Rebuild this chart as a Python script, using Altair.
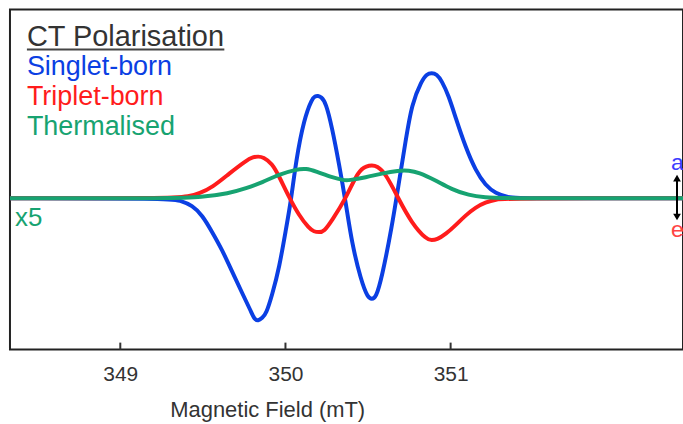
import altair as alt
import pandas as pd

# ---- data (field in mT, intensity in arbitrary units) ----
singlet_field = [348.30, 349.30, 349.36, 349.436, 349.497, 349.557, 349.618, 349.678, 349.738,
                 349.793, 349.811, 349.835, 349.859, 349.883, 349.919, 349.962, 350.004, 350.034,
                 350.064, 350.113, 350.161, 350.179, 350.197, 350.215, 350.245, 350.282, 350.324,
                 350.366, 350.402, 350.457, 350.499, 350.523, 350.547, 350.583, 350.644, 350.686,
                 350.728, 350.765, 350.825, 350.855, 350.885, 350.916, 350.946, 350.988, 351.030,
                 351.091, 351.151, 351.211, 351.272, 351.350, 351.411, 352.45]
singlet_int = [0.0, 0.0, -0.02, -0.07, -0.17, -0.34, -0.52, -0.74, -0.95,
               -1.14, -1.21, -1.23, -1.20, -1.16, -0.97, -0.70, -0.30, -0.02,
               0.38, 0.80, 1.00, 1.025, 1.03, 1.018, 0.96, 0.71, 0.35,
               -0.05, -0.45, -0.82, -1.00, -1.01, -1.00, -0.80, -0.29, 0.15,
               0.58, 0.95, 1.18, 1.245, 1.26, 1.245, 1.18, 1.03, 0.81,
               0.51, 0.28, 0.13, 0.05, 0.01, 0.0, 0.0]

triplet_field = [348.30, 349.30, 349.418, 349.479, 349.557, 349.660, 349.762, 349.805, 349.835,
                 349.865, 349.919, 349.962, 350.022, 350.082, 350.142, 350.173, 350.203, 350.233,
                 350.282, 350.366, 350.441, 350.493, 350.523, 350.553, 350.607, 350.686, 350.765,
                 350.855, 350.885, 350.916, 350.970, 351.030, 351.091, 351.151, 351.211, 351.272,
                 351.350, 352.45]
triplet_int = [0.0, 0.0, 0.02, 0.05, 0.11, 0.25, 0.38, 0.415, 0.42,
               0.415, 0.35, 0.22, 0.01, -0.17, -0.30, -0.335, -0.34, -0.335,
               -0.22, 0.00, 0.28, 0.325, 0.33, 0.325, 0.25, -0.01, -0.25,
               -0.415, -0.42, -0.415, -0.36, -0.27, -0.17, -0.09, -0.04, -0.01,
               0.0, 0.0]

thermal_field = [348.30, 349.36, 349.479, 349.660, 349.762, 349.859, 349.962, 350.064, 350.125,
                 350.185, 350.282, 350.354, 350.384, 350.487, 350.583, 350.686, 350.746, 350.807,
                 350.909, 351.006, 351.109, 351.211, 351.311, 352.45]
thermal_int = [0.0, 0.0, 0.01, 0.05, 0.10, 0.16, 0.24, 0.29, 0.30,
               0.27, 0.21, 0.18, 0.18, 0.21, 0.25, 0.28, 0.28, 0.26,
               0.18, 0.09, 0.03, 0.01, 0.0, 0.0]

series_names = ["Singlet-born", "Triplet-born", "Thermalised"]
series_colors = ["#0b3fe3", "#ff1c1c", "#17a371"]
tick_values = [349, 350, 351]

x_domain = [348.332, 352.407]
y_domain = [-1.517, 1.893]

W, H = 675, 341
FONT = "Liberation Sans"

def xdef(field):
    return alt.X(f"{field}:Q",
                 scale=alt.Scale(domain=x_domain, nice=False, zero=False),
                 axis=alt.Axis(values=tick_values, ticks=False, domain=False, grid=False,
                               format="d", labelFont=FONT, labelFontSize=21,
                               labelColor="#333333", labelPadding=31,
                               labelBaseline="alphabetic", labelFlush=False,
                               title="Magnetic Field (mT)", titleFont=FONT,
                               titleFontSize=22, titleFontWeight="normal",
                               titleColor="#333333", titleX=258, titleY=67,
                               titleBaseline="alphabetic", titleAlign="center",
                               titleAnchor="start"))

ydef = alt.Y("intensity:Q", scale=alt.Scale(domain=y_domain, nice=False, zero=False), axis=None)

def line_layer(fields, ints, color):
    df = pd.DataFrame({"field": fields, "intensity": ints})
    return alt.Chart(df).mark_line(color=color, strokeWidth=4, interpolate="basis",
                                   clip=True).encode(x=xdef("field"), y=ydef)

layers = [
    line_layer(singlet_field, singlet_int, series_colors[0]),
    line_layer(triplet_field, triplet_int, series_colors[1]),
    line_layer(thermal_field, thermal_int, series_colors[2]),
]

# inward ticks on the bottom axis
tick_df = pd.DataFrame({"tick": tick_values})
layers.append(alt.Chart(tick_df).mark_rule(color="#333333", strokeWidth=2).encode(
    x=xdef("tick"), y=alt.value(H), y2=alt.value(H - 7)))

one = alt.Data(values=[{"k": 1}])

def text_layer(txt, x, y, size, color, font=FONT):
    return alt.Chart(one).mark_text(text=txt, align="left", baseline="alphabetic",
                                    font=font, fontSize=size, color=color).encode(
        x=alt.value(x), y=alt.value(y))

# legend block
layers.append(text_layer("CT Polarisation", 17, 37, 29, "#333333"))
layers.append(alt.Chart(one).mark_rule(color="#444444", strokeWidth=2).encode(
    x=alt.value(17), x2=alt.value(215), y=alt.value(40)))
for i, (name, col) in enumerate(zip(series_names, series_colors)):
    layers.append(text_layer(name, 17, 66 + 30 * i, 27, col))

# x5 note
layers.append(text_layer("x5", 5, 217, 26, series_colors[2]))

# a / e labels and double arrow at right edge
layers.append(text_layer("a", 663, 161, 23, "#3c3cff"))
layers.append(text_layer("e", 663, 228, 23, "#ff4444"))
layers.append(alt.Chart(one).mark_rule(color="#000000", strokeWidth=2).encode(
    x=alt.value(669), y=alt.value(168), y2=alt.value(209)))
layers.append(alt.Chart(one).mark_point(shape="triangle-up", filled=True, color="#000000",
                                        size=60, opacity=1).encode(
    x=alt.value(669), y=alt.value(169)))
layers.append(alt.Chart(one).mark_point(shape="triangle-down", filled=True, color="#000000",
                                        size=60, opacity=1).encode(
    x=alt.value(669), y=alt.value(208)))

chart = alt.layer(*layers).properties(
    width=W, height=H,
    padding={"left": 10, "top": 9, "right": 0, "bottom": 74},
    autosize=alt.AutoSizeParams(type="none"),
    background="white",
).configure_view(stroke="#222222", strokeWidth=2)

chart.save("out.html", embed_options={"renderer": "svg", "actions": False})
